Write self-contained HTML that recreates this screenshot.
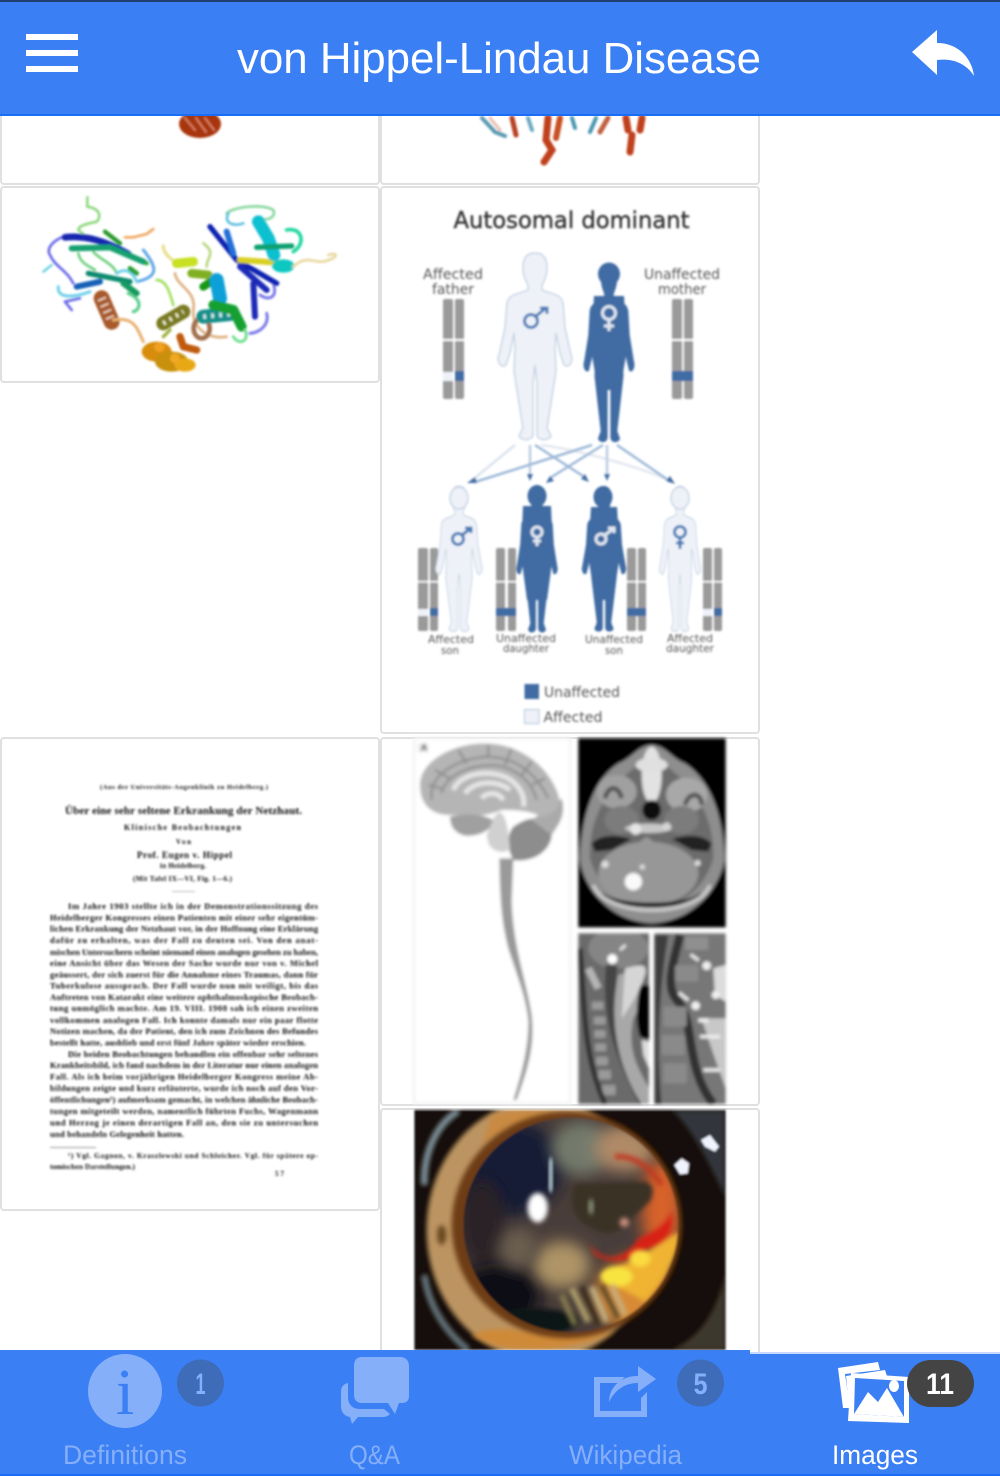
<!DOCTYPE html>
<html lang="en">
<head>
<meta charset="utf-8">
<title>von Hippel-Lindau Disease</title>
<style>
html,body{margin:0;padding:0;background:#fff;width:1000px;height:1476px;overflow:hidden}
svg{display:block}
text{font-family:"Liberation Sans",sans-serif}
.doc text{font-family:"Liberation Serif",serif;fill:#111;font-size:8.6px;font-weight:bold}
.lab text{font-family:"DejaVu Sans",sans-serif;fill:#555;text-anchor:middle}
.tile{fill:#fff;stroke:#e0e0e0;stroke-width:2}
</style>
</head>
<body>
<svg width="1000" height="1476" viewBox="0 0 1000 1476" xmlns="http://www.w3.org/2000/svg">
<defs>
<filter id="b1" x="-10%" y="-10%" width="120%" height="120%"><feGaussianBlur stdDeviation="1"/></filter>
<filter id="b2" x="-10%" y="-10%" width="120%" height="120%"><feGaussianBlur stdDeviation="1.5"/></filter>
<filter id="b3" x="-40%" y="-40%" width="180%" height="180%"><feGaussianBlur stdDeviation="6"/></filter>
<filter id="b4" x="-60%" y="-60%" width="220%" height="220%"><feGaussianBlur stdDeviation="22"/></filter>
<path id="body" d="M0,0C-10,0-12,8-12,15C-12,23-9,28-7,32L-7,37C-14,41-26,40-28,50L-30,75L-36,102C-39,108-34,116-29,112L-25,100L-21,80L-20,95L-21,118L-16,150L-12,175L-16,183C-14,188-3,188-2,182L-2,130L0,112L2,130L2,182C3,188 14,188 16,183L12,175L16,150L21,118L20,95L21,80L25,100L29,112C34,116 39,108 36,102L30,75L28,50C26,40 14,41 7,37L7,32C9,28 12,23 12,15C12,8 10,0 0,0Z"/>
<clipPath id="eyeClip"><rect x="88" y="15" width="934" height="720"/></clipPath>
<clipPath id="pupilClip"><circle cx="557" cy="360" r="322"/></clipPath>
<clipPath id="cClip"><rect x="580" y="595" width="212" height="512"/></clipPath>
<clipPath id="dClip"><rect x="808" y="595" width="214" height="512"/></clipPath>
<clipPath id="mriClip"><rect x="580" y="10" width="442" height="567"/></clipPath>
</defs>

<rect width="1000" height="1476" fill="#fff"/>

<!-- tiles -->
<rect class="tile" x="1" y="90" width="378" height="94" rx="3"/>
<rect class="tile" x="381" y="90" width="378" height="94" rx="3"/>
<rect class="tile" x="1" y="187" width="378" height="195" rx="3"/>
<rect class="tile" x="381" y="187" width="378" height="546" rx="3"/>
<rect class="tile" x="1" y="738" width="378" height="472" rx="3"/>
<rect class="tile" x="381" y="738" width="378" height="367" rx="3"/>
<rect class="tile" x="381" y="1109" width="378" height="280" rx="3"/>

<!-- top fragments of clipped proteins -->
<g filter="url(#b1)">
<g fill="none" stroke-linecap="round">
<ellipse cx="200" cy="124" rx="21" ry="14" fill="#a83510"/>
<path d="M185,118L195,130M205,118L214,130M196,118L206,132" stroke="#d88060" stroke-width="2"/>
<path d="M482,118L495,132L505,136" stroke="#5a9ab0" stroke-width="4"/>
<path d="M512,118L516,135" stroke="#b84020" stroke-width="5"/>
<path d="M490,118L500,130" stroke="#e8c0b0" stroke-width="3"/>
<path d="M528,118L532,130" stroke="#6aa8c0" stroke-width="4"/>
<path d="M548,118L546,140L552,150L544,162" stroke="#c0401a" stroke-width="7"/>
<path d="M560,118L556,138" stroke="#c85020" stroke-width="6"/>
<path d="M572,118L575,128M596,118L590,132" stroke="#4a96b0" stroke-width="4"/>
<path d="M608,118L600,132" stroke="#c06040" stroke-width="5"/>
<path d="M626,118L628,130M642,118L640,130M632,135L630,152" stroke="#c0401a" stroke-width="7"/>
</g>
</g>

<!-- protein -->
<g filter="url(#b1)">
<g transform="translate(0,110) scale(.33333)" fill="none" stroke-linecap="round" stroke-linejoin="round">
<path d="M262,262L262,290C300,295 305,320 290,335C270,340 235,345 235,360L250,372" stroke="#8fd880" stroke-width="8"/>
<path d="M195,378C150,395 140,420 150,435C165,470 200,480 220,520" stroke="#6a6ae8" stroke-width="8"/>
<path d="M130,485L155,465" stroke="#66cfe0" stroke-width="7"/>
<path d="M280,425C300,450 340,460 350,490M235,430C240,460 270,470 285,480" stroke="#70d080" stroke-width="8"/>
<path d="M430,420C470,470 480,500 410,515" stroke="#5fa8e8" stroke-width="9"/>
<path d="M175,530C170,570 230,560 270,545M350,490C380,470 400,490 410,515" stroke="#70d0e8" stroke-width="9"/>
<path d="M195,575L215,600M195,575L240,565" stroke="#6a6ae8" stroke-width="8"/>
<path d="M385,550C430,570 420,600 400,605" stroke="#60d090" stroke-width="10"/>
<path d="M195,382C260,375 320,395 385,432" stroke="#1525b0" stroke-width="20"/>
<path d="M385,432L440,460" stroke="#38b020" stroke-width="13"/>
<path d="M215,415L330,412L430,455" stroke="#12a070" stroke-width="18"/>
<path d="M315,365L360,400" stroke="#2a9a2a" stroke-width="13"/>
<path d="M375,382L400,382L440,372L460,357" stroke="#f0a860" stroke-width="8"/>
<path d="M265,490L390,515" stroke="#0a8a70" stroke-width="16"/>
<path d="M230,530L300,515" stroke="#1560b8" stroke-width="18"/>
<path d="M370,520L410,550" stroke="#129a60" stroke-width="18"/>
<path d="M390,475L410,490" stroke="#2aa030" stroke-width="14"/>
<path d="M470,510C500,510 510,550 520,585" stroke="#a0e060" stroke-width="8"/>
<path d="M305,565L335,635" stroke="#a85a2a" stroke-width="48"/>
<path d="M305,565L335,635" stroke="#f0d8c8" stroke-width="26" stroke-dasharray="5 15" stroke-linecap="butt"/>
<path d="M340,630C400,620 410,650 430,695" stroke="#e8b070" stroke-width="9"/>
<path d="M490,640L550,605" stroke="#7a7a20" stroke-width="42"/>
<path d="M490,640L550,605" stroke="#f0f0d0" stroke-width="14" stroke-dasharray="7 15" stroke-linecap="butt"/>
<path d="M490,680L510,660" stroke="#a0b040" stroke-width="10"/>
<ellipse cx="470" cy="725" rx="45" ry="30" fill="#d88c10"/>
<ellipse cx="515" cy="755" rx="50" ry="30" fill="#c89010"/>
<ellipse cx="555" cy="765" rx="32" ry="20" fill="#e8a818"/>
<ellipse cx="478" cy="712" rx="16" ry="14" fill="#f0a020"/>
<ellipse cx="525" cy="745" rx="15" ry="15" fill="#f0a820"/>
<path d="M540,680L550,710L590,720" stroke="#c05a10" stroke-width="22"/>
<path d="M490,408C490,430 510,445 530,460" stroke="#e8e090" stroke-width="10"/>
<path d="M530,460L580,455" stroke="#c8e020" stroke-width="28"/>
<path d="M575,490L625,495" stroke="#80b020" stroke-width="26"/>
<path d="M610,530L640,510" stroke="#189818" stroke-width="24"/>
<path d="M525,490C530,530 590,540 580,600C575,650 620,690 680,680" stroke="#dfb080" stroke-width="8"/>
<path d="M620,470C620,440 650,430 610,400" stroke="#b8d880" stroke-width="8"/>
<ellipse cx="605" cy="655" rx="24" ry="30" stroke="#a07050" stroke-width="14"/>
<path d="M610,620L690,612" stroke="#15908a" stroke-width="42"/>
<path d="M610,620L690,612" stroke="#d0f0f0" stroke-width="14" stroke-dasharray="8 16" stroke-linecap="butt"/>
<path d="M650,510L660,565" stroke="#10a0d8" stroke-width="42"/>
<path d="M640,585L700,600L725,650" stroke="#12a030" stroke-width="30"/>
<path d="M700,680C720,710 750,690 735,660" stroke="#70e090" stroke-width="9"/>
<path d="M800,610C810,650 770,670 750,670" stroke="#7a7ae8" stroke-width="9"/>
<path d="M820,520C835,570 800,570 780,555" stroke="#7a7ae8" stroke-width="9"/>
<path d="M680,310C700,290 790,280 820,300C830,320 800,340 770,320" stroke="#8ad8a0" stroke-width="8"/>
<path d="M685,310C670,340 700,350 730,340" stroke="#60c0e0" stroke-width="8"/>
<path d="M630,350L710,450L830,520" stroke="#1020b0" stroke-width="16"/>
<path d="M680,365L700,430" stroke="#2070d8" stroke-width="18"/>
<path d="M720,470L800,540" stroke="#1a2ab8" stroke-width="18"/>
<path d="M760,520L765,620" stroke="#1a2ab8" stroke-width="18"/>
<path d="M720,450L860,460" stroke="#d8d020" stroke-width="18"/>
<path d="M775,335L805,385L822,435" stroke="#10c0d0" stroke-width="38"/>
<path d="M770,412L875,408" stroke="#10a070" stroke-width="16"/>
<ellipse cx="850" cy="468" rx="34" ry="20" fill="#10c8c0"/>
<path d="M860,360C905,350 920,400 880,425" stroke="#20d8a0" stroke-width="11"/>
<path d="M880,470C920,430 950,465 980,452C1020,440 1010,425 985,435" stroke="#e8d8a0" stroke-width="8"/>
</g>
</g>

<!-- pedigree -->
<g filter="url(#b1)">
<g class="lab">
<text x="571.5" y="228" font-size="23.5" textLength="236" lengthAdjust="spacingAndGlyphs" style="fill:#333" stroke="#333" stroke-width=".4">Autosomal dominant</text>
<text x="453" y="279" font-size="14.5" textLength="60" lengthAdjust="spacingAndGlyphs">Affected</text>
<text x="453" y="294" font-size="14.5" textLength="42" lengthAdjust="spacingAndGlyphs">father</text>
<text x="682" y="279" font-size="14.5" textLength="76" lengthAdjust="spacingAndGlyphs">Unaffected</text>
<text x="682" y="294" font-size="14.5" textLength="48" lengthAdjust="spacingAndGlyphs">mother</text>
<text x="451" y="643" font-size="11" textLength="46" lengthAdjust="spacingAndGlyphs">Affected</text>
<text x="450" y="654" font-size="11" textLength="18" lengthAdjust="spacingAndGlyphs">son</text>
<text x="526" y="642" font-size="11" textLength="60" lengthAdjust="spacingAndGlyphs">Unaffected</text>
<text x="526" y="652" font-size="11" textLength="46" lengthAdjust="spacingAndGlyphs">daughter</text>
<text x="614" y="643" font-size="11" textLength="58" lengthAdjust="spacingAndGlyphs">Unaffected</text>
<text x="614" y="654" font-size="11" textLength="18" lengthAdjust="spacingAndGlyphs">son</text>
<text x="690" y="642" font-size="11" textLength="46" lengthAdjust="spacingAndGlyphs">Affected</text>
<text x="690" y="652" font-size="11" textLength="48" lengthAdjust="spacingAndGlyphs">daughter</text>
<text x="582" y="697" font-size="14" textLength="76" lengthAdjust="spacingAndGlyphs">Unaffected</text>
<text x="573" y="722" font-size="14" textLength="59" lengthAdjust="spacingAndGlyphs">Affected</text>
</g>

<!-- connectors -->
<g fill="none" stroke-width="2.5">
<path d="M515,445L470,482" stroke="#dbe3ee"/>
<path d="M530,445L530,478" stroke="#bccde2"/>
<path d="M535,445L586,478" stroke="#9db8d8"/>
<path d="M541,445C580,450 650,470 672,482" stroke="#e3e8f0"/>
<path d="M592,445L475,482" stroke="#9db8d8"/>
<path d="M603,445L550,478" stroke="#9db8d8"/>
<path d="M607,445L607,478" stroke="#bccde2"/>
<path d="M617,445L671,482" stroke="#9db8d8"/>
</g>
<g fill="#3f6ca3">
<path d="M467,483l8,-6 2,6z"/><path d="M527,474h6l-3,7z"/><path d="M546,483l4,-7 4,5z"/>
<path d="M589,482l-8,-3 4,-5z"/><path d="M604,474h6l-3,7z"/><path d="M675,484l-9,-3 4,-5z"/>
</g>

<!-- chromosomes -->
<g fill="#9a9a9a">
<rect x="443" y="299" width="10" height="100" rx="2"/><rect x="455" y="299" width="9" height="100" rx="2"/>
<rect x="672" y="299" width="10" height="100" rx="2"/><rect x="684" y="299" width="9" height="100" rx="2"/>
<rect x="418" y="548" width="10" height="83" rx="2"/><rect x="430" y="548" width="8" height="83" rx="2"/>
<rect x="496" y="548" width="9" height="83" rx="2"/><rect x="508" y="548" width="8" height="83" rx="2"/>
<rect x="627" y="548" width="9" height="83" rx="2"/><rect x="638" y="548" width="8" height="83" rx="2"/>
<rect x="703" y="548" width="9" height="83" rx="2"/><rect x="714" y="548" width="8" height="83" rx="2"/>
</g>
<g fill="#fff">
<rect x="442" y="339" width="24" height="2"/><rect x="671" y="339" width="24" height="2"/>
<rect x="417" y="581" width="23" height="1.5"/><rect x="495" y="581" width="23" height="1.5"/>
<rect x="626" y="581" width="22" height="1.5"/><rect x="702" y="581" width="22" height="1.5"/>
</g>
<g fill="#3f6ca3">
<rect x="455" y="371" width="9" height="10"/><rect x="672" y="371" width="21" height="10"/>
<rect x="430" y="608" width="8" height="8"/><rect x="496" y="608" width="20" height="8"/>
<rect x="627" y="608" width="19" height="8"/><rect x="714" y="608" width="8" height="8"/>
</g>
<g fill="#eef2f8">
<rect x="443" y="372" width="10" height="9"/><rect x="418" y="609" width="10" height="7"/><rect x="703" y="609" width="9" height="7"/>
</g>

<!-- people -->
<g fill="#eef2f8" stroke="#c5d2e4" stroke-width="1.4">
<use href="#body" transform="translate(535,253)"/>
<use href="#body" transform="translate(459,486) scale(.63,.78)"/>
<use href="#body" transform="translate(680,486) scale(.56,.78)"/>
<ellipse cx="459" cy="498" rx="9" ry="11"/>
<ellipse cx="680" cy="498" rx="9" ry="11"/>
</g>
<g fill="#3f6ca3">
<use href="#body" transform="translate(609,263) scale(.69,.96)"/>
<use href="#body" transform="translate(537,485) scale(.56,.79)"/>
<use href="#body" transform="translate(604,486) scale(.6,.78)"/>
<ellipse cx="609" cy="274" rx="11" ry="11.5"/>
<ellipse cx="537" cy="496" rx="9.5" ry="11"/>
<ellipse cx="603" cy="497" rx="9.5" ry="11"/>
<path d="M594,296H624L627,350L620,390L598,390L591,350Z"/>
<path d="M523,506H551L553,555L547,600L527,600L521,555Z"/>
<path d="M591,507H617L620,555L613,600L595,600L588,555Z"/>
</g>

<!-- sex symbols -->
<g fill="none" stroke-width="3">
<g stroke="#4a7db8">
<circle cx="531" cy="321" r="6.5"/><path d="M536,316L546,308M540,308h7v6"/>
<circle cx="458" cy="539" r="5.5"/><path d="M462,535L470,529M465,528h6v5"/>
<circle cx="680" cy="532" r="5.5"/><path d="M680,538V549M676,543h8"/>
</g>
<g stroke="#dfe7f2">
<circle cx="609" cy="313" r="6.5"/><path d="M609,320V331M604,326h10"/>
<circle cx="537" cy="532" r="5"/><path d="M537,537V546M533,541h8"/>
<circle cx="601" cy="539" r="5"/><path d="M605,535L613,529M608,528h6v5"/>
</g>
</g>

<!-- legend -->
<rect x="524.5" y="684" width="14.5" height="15" fill="#3f6ca3"/>
<rect x="524.5" y="709.5" width="14.5" height="14" fill="#eef2f8" stroke="#c5d2e4" stroke-width="1.4"/>
</g>

<!-- old paper -->
<g filter="url(#b1)" class="doc">
<text x="100" y="789" style="font-size:6.5px" textLength="168">(Aus der Universitäts-Augenklinik zu Heidelberg.)</text>
<text x="65" y="814" style="font-size:11px" textLength="237">Über eine sehr seltene Erkrankung der Netzhaut.</text>
<text x="124" y="830" style="font-size:8px" textLength="117">Klinische Beobachtungen</text>
<text x="176" y="844" style="font-size:7px" textLength="15">Von</text>
<text x="137" y="858" style="font-size:9px" textLength="95">Prof. Eugen v. Hippel</text>
<text x="160" y="868" style="font-size:7px" textLength="46">in Heidelberg.</text>
<text x="133" y="881" style="font-size:7px" textLength="99">(Mit Tafel IX—VI, Fig. 1—6.)</text>
<rect x="172" y="891" width="23" height="1" fill="#bbb"/>
<text x="68" y="909" textLength="250">Im Jahre 1903 stellte ich in der Demonstrationssitzung des</text>
<text x="50" y="920.5" textLength="268">Heidelberger Kongresses einen Patienten mit einer sehr eigentüm-</text>
<text x="50" y="931.5" textLength="268">lichen Erkrankung der Netzhaut vor, in der Hoffnung eine Erklärung</text>
<text x="50" y="943" textLength="268">dafür zu erhalten, was der Fall zu deuten sei.  Von den anat-</text>
<text x="50" y="955" textLength="268">mischen Untersuchern scheint niemand einen analogen gesehen zu haben,</text>
<text x="50" y="966" textLength="268">eine Ansicht über das Wesen der Sache wurde nur von v. Michel</text>
<text x="50" y="977.5" textLength="268">geäussert, der sich zuerst für die Annahme eines Traumas, dann für</text>
<text x="50" y="988.5" textLength="268">Tuberkulose aussprach.  Der Fall wurde nun mit weiligt, bis das</text>
<text x="50" y="1000" textLength="268">Auftreten von Katarakt eine weitere ophthalmoskopische Beobach-</text>
<text x="50" y="1011" textLength="268">tung unmöglich machte.  Am 19. VIII. 1908 sah ich einen zweiten</text>
<text x="50" y="1023" textLength="268">vollkommen analogen Fall. Ich konnte damals nur ein paar flotte</text>
<text x="50" y="1034" textLength="268">Notizen machen, da der Patient, den ich zum Zeichnen des Befundes</text>
<text x="50" y="1045.5" textLength="256">bestellt hatte, ausblieb und erst fünf Jahre später wieder erschien.</text>
<text x="68" y="1057" textLength="250">Die beiden Beobachtungen behandlen ein offenbar sehr seltenes</text>
<text x="50" y="1068" textLength="268">Krankheitsbild, ich fand nachdem in der Literatur nur einen analogen</text>
<text x="50" y="1079.5" textLength="268">Fall.  Als ich beim vorjährigen Heidelberger Kongress meine Ab-</text>
<text x="50" y="1091" textLength="268">bildungen zeigte und kurz erläuterte, wurde ich noch auf den Vor-</text>
<text x="50" y="1102.5" textLength="268">öffentlichungen¹) aufmerksam gemacht, in welchen ähnliche Beobach-</text>
<text x="50" y="1114" textLength="268">tungen mitgeteilt werden, namentlich führten Fuchs, Wagenmann</text>
<text x="50" y="1125.5" textLength="268">und Herzog je einen derartigen Fall an, den sie zu untersuchen</text>
<text x="50" y="1137" textLength="134">und behandeln Gelegenheit hatten.</text>
<rect x="50" y="1147" width="46" height="1" fill="#999"/>
<text x="68" y="1158" style="font-size:7.4px" textLength="250">¹) Vgl. Gagnon, v. Kraszlewski und Schleicher.  Vgl. für spätere op-</text>
<text x="50" y="1169" style="font-size:7.4px" textLength="85">tomischen Darstellungen.)</text>
<text x="275" y="1176" style="font-size:7px" textLength="9">57</text>
</g>

<!-- brain + MRI -->
<g filter="url(#b2)">
<g transform="translate(385,735) scale(.33333)">
<rect x="88" y="10" width="468" height="1095" fill="#fff" stroke="#f0f0f0" stroke-width="6"/>
<rect x="100" y="25" width="30" height="28" fill="#e8e8e8"/>
<text x="117" y="46" font-size="28" font-weight="bold" fill="#222" text-anchor="middle">A</text>
<path d="M343,370C345,500 350,560 370,640C395,720 425,790 430,860C430,950 405,1030 385,1095L395,1095C430,1000 450,930 440,840C425,740 385,640 380,500L385,370Z" fill="#9a9a9a"/>
<path d="M385,275C440,235 490,245 500,290C505,340 450,385 385,375C365,340 365,300 385,275Z" fill="#8d8d8d"/>
<path d="M440,255L530,190C545,240 520,270 500,300Z" fill="#aaa"/>
<path d="M105,150C105,80 200,25 300,25C400,25 490,90 520,180C530,215 510,235 470,245C430,225 390,225 350,225C290,250 240,240 195,240C140,240 105,210 105,150Z" fill="#b5b5b5"/>
<path d="M195,245C240,235 290,235 325,255C325,285 280,305 240,302C210,295 195,275 195,245Z" fill="#a0a0a0"/>
<path d="M305,300C320,270 325,235 345,232C365,240 370,290 375,340C360,360 320,350 310,325Z" fill="#d0d0d0"/>
<g fill="none" stroke="#e6e6e6" stroke-width="15">
<path d="M205,165C225,115 310,100 370,130C410,155 420,190 415,215"/>
<path d="M240,175C270,135 340,135 375,165"/>
<path d="M290,190C305,170 340,170 355,195"/>
</g>
<g fill="none" stroke="#8f8f8f" stroke-width="7">
<path d="M140,195C130,120 210,75 300,65C390,65 450,110 490,190"/>
<path d="M170,175C180,120 260,85 340,92C400,105 440,140 455,195"/>
<path d="M310,30V65M380,40L360,90M440,80L410,120M220,45L245,85M150,105L195,130M130,150L170,160M480,130L440,150"/>
</g>
<!-- axial MRI -->
<rect x="580" y="10" width="442" height="567" fill="#000"/>
<g clip-path="url(#mriClip)">
<path d="M800,30C840,30 860,70 900,85C970,130 1015,230 1018,370C1010,450 930,560 800,565C670,560 590,450 585,370C590,230 630,130 700,85C740,70 760,30 800,30Z" fill="#8e8e8e"/>
<path d="M800,60C870,110 990,190 985,370C960,460 880,520 800,525C720,520 640,460 615,370C610,190 730,110 800,60Z" fill="#6c6c6c"/>
<ellipse cx="800" cy="120" rx="30" ry="85" fill="#e2e2e2"/>
<ellipse cx="800" cy="90" rx="48" ry="22" fill="#e0e0e0"/>
<ellipse cx="800" cy="225" rx="28" ry="30" fill="#0c0c0c"/>
<ellipse cx="695" cy="170" rx="60" ry="50" fill="#a0a0a0"/>
<ellipse cx="905" cy="180" rx="62" ry="52" fill="#a8a8a8"/>
<path d="M660,190C670,150 700,150 710,190M900,210C910,170 950,170 950,210" fill="none" stroke="#555" stroke-width="14"/>
<ellipse cx="710" cy="255" rx="52" ry="42" fill="#7c7c7c"/>
<ellipse cx="890" cy="255" rx="52" ry="42" fill="#7c7c7c"/>
<ellipse cx="790" cy="280" rx="70" ry="14" fill="#c8c8c8"/>
<path d="M620,325C650,295 700,300 740,312L680,345L630,350ZM980,325C950,295 900,300 860,312L920,345L970,350Z" fill="#222"/>
<ellipse cx="790" cy="415" rx="150" ry="95" fill="#979797"/>
<path d="M785,305L860,360L710,360Z" fill="#979797"/>
<path d="M650,480C700,520 900,520 950,480" fill="none" stroke="#1c1c1c" stroke-width="14"/>
<path d="M625,450C660,550 940,550 975,450" fill="none" stroke="#c8c8c8" stroke-width="12"/>
<circle cx="745" cy="440" r="26" fill="#fafafa"/>
<circle cx="772" cy="396" r="8" fill="#ddd"/>
<circle cx="660" cy="388" r="11" fill="#ddd"/>
<circle cx="938" cy="384" r="9" fill="#ddd"/>
<circle cx="752" cy="282" r="17" fill="#e5e5e5"/>
<circle cx="845" cy="275" r="13" fill="#d5d5d5"/>
</g>
<!-- sagittal C -->
<rect x="580" y="595" width="212" height="512" fill="#6a6a6a"/>
<g clip-path="url(#cClip)">
<ellipse cx="700" cy="640" rx="90" ry="60" fill="#858585"/>
<path d="M680,690C670,800 680,920 780,1105" fill="none" stroke="#444" stroke-width="34"/>
<path d="M700,720C790,690 785,790 745,850C725,950 760,1000 792,1060V1107H770C700,1000 670,860 700,720Z" fill="#a8a8a8"/>
<path d="M765,750L792,750V915L765,905C750,860 755,800 765,750Z" fill="#000"/>
<path d="M770,915L792,920V1000L775,960Z" fill="#ddd"/>
<path d="M720,700C760,690 790,680 780,720C760,780 730,820 710,850Z" fill="#d5d5d5"/>
<g fill="#9a9a9a"><rect x="620" y="800" width="36" height="24" rx="4"/><rect x="626" y="845" width="36" height="24" rx="4"/><rect x="628" y="885" width="34" height="24" rx="4"/><rect x="630" y="925" width="34" height="24" rx="4"/><rect x="633" y="965" width="36" height="26" rx="4"/><rect x="640" y="1005" width="38" height="28" rx="4"/><rect x="652" y="1050" width="40" height="30" rx="4"/></g>
<circle cx="682" cy="672" r="15" fill="#fff"/>
<path d="M705,645L722,630" stroke="#eee" stroke-width="8"/>
<path d="M585,640C600,800 590,950 660,1107" fill="none" stroke="#333" stroke-width="16"/>
<path d="M610,700L640,760" stroke="#b5b5b5" stroke-width="22"/>
</g>
<!-- sagittal D -->
<rect x="808" y="595" width="214" height="512" fill="#777"/>
<g clip-path="url(#dClip)">
<path d="M850,600C830,720 810,900 830,1107L808,1107V600Z" fill="#3c3c3c"/>
<path d="M885,600C860,700 840,760 880,800C930,860 900,1000 985,1107" fill="none" stroke="#333" stroke-width="26"/>
<g fill="#8a8a8a"><rect x="870" y="690" width="70" height="50" rx="6"/><rect x="835" y="815" width="70" height="60" rx="6"/><rect x="830" y="900" width="70" height="60" rx="6"/><rect x="835" y="985" width="70" height="60" rx="6"/></g>
<rect x="900" y="605" width="70" height="40" rx="6" fill="#8f8f8f"/>
<path d="M950,850C965,900 1000,1000 1022,1060V850Z" fill="#c8c8c8"/>
<path d="M985,700L1022,690V800L990,780Z" fill="#dcdcdc"/>
<g fill="#f0f0f0"><circle cx="965" cy="692" r="13"/><circle cx="932" cy="812" r="13"/><circle cx="992" cy="780" r="12"/><path d="M920,655l24,18-6,7-24,-18z"/><path d="M885,770l28,22-6,7-28,-22z"/><rect x="940" y="850" width="30" height="12"/><rect x="945" y="900" width="60" height="10"/><rect x="955" y="1000" width="50" height="10"/></g>
</g>
</g>
</g>

<!-- eye -->
<g filter="url(#b1)">
<g transform="translate(385,1105) scale(.33333)">
<g clip-path="url(#eyeClip)">
<rect x="88" y="15" width="934" height="720" fill="#160d07"/>
<path d="M860,15H1022V280C970,170 920,70 860,15Z" fill="#33363a" filter="url(#b3)"/>
<path d="M860,735C960,690 1000,600 1022,500V735Z" fill="#3e382e" filter="url(#b3)"/>
<path d="M118,240C115,150 150,60 220,18" fill="none" stroke="#a8c8d8" stroke-width="18" opacity=".75" filter="url(#b3)"/>
<path d="M118,510C130,600 180,680 250,735" fill="none" stroke="#8ca8b8" stroke-width="18" opacity=".7" filter="url(#b3)"/>
<ellipse cx="470" cy="375" rx="345" ry="390" fill="#bc9462" filter="url(#b3)"/>
<path d="M320,30C400,10 460,15 520,25L430,60C380,70 320,90 290,120Z" fill="#c98a42" filter="url(#b3)"/>
<path d="M260,690C340,740 500,760 690,680L560,690C440,690 340,650 260,690Z" fill="#cf8a38" filter="url(#b3)"/>
<ellipse cx="170" cy="390" rx="14" ry="30" fill="#6a4a20" filter="url(#b3)"/>
<ellipse cx="545" cy="360" rx="345" ry="340" fill="#6e3c14" filter="url(#b3)"/>
<circle cx="557" cy="360" r="322" fill="#4a3e3a"/>
<g clip-path="url(#pupilClip)">
<ellipse cx="360" cy="190" rx="175" ry="145" fill="#121a36" filter="url(#b4)"/>
<ellipse cx="290" cy="350" rx="70" ry="130" fill="#2a2428" filter="url(#b4)"/>
<ellipse cx="340" cy="570" rx="130" ry="95" fill="#0a1018" filter="url(#b4)"/>
<ellipse cx="450" cy="650" rx="130" ry="40" fill="#0c1218" filter="url(#b3)"/>
<ellipse cx="590" cy="130" rx="90" ry="80" fill="#737a6c" filter="url(#b4)"/>
<ellipse cx="720" cy="130" rx="90" ry="70" fill="#b08a68" filter="url(#b4)"/>
<ellipse cx="530" cy="480" rx="85" ry="70" fill="#ae9466" filter="url(#b4)"/>
<ellipse cx="400" cy="430" rx="55" ry="60" fill="#6a5e50" filter="url(#b4)"/>
<ellipse cx="830" cy="310" rx="60" ry="150" fill="#d8622c" filter="url(#b4)"/>
<path d="M690,155C740,150 790,180 830,240" fill="none" stroke="#c03a22" stroke-width="16" filter="url(#b3)"/>
<ellipse cx="760" cy="570" rx="130" ry="110" fill="#d88a36" filter="url(#b4)"/>
<path d="M600,400C640,470 710,480 760,400C810,380 840,360 860,320C870,380 840,420 790,430C740,470 680,480 630,450Z" fill="#d82014" filter="url(#b3)"/>
<path d="M650,510C730,480 790,440 880,380C890,440 840,520 780,590C730,560 680,540 650,510Z" fill="#f0b432" filter="url(#b3)"/>
<ellipse cx="695" cy="515" rx="48" ry="30" fill="#f8e440" filter="url(#b3)"/>
<ellipse cx="765" cy="460" rx="32" ry="25" fill="#fadc40" filter="url(#b3)"/>
<path d="M570,235L780,230C805,235 810,260 795,290L740,340C700,395 660,395 610,365C560,340 550,280 570,235Z" fill="#3a3028" filter="url(#b3)"/>
<ellipse cx="618" cy="305" rx="6" ry="24" fill="#a0ae8c" filter="url(#b3)"/>
<circle cx="718" cy="352" r="14" fill="#c89080" filter="url(#b3)"/>
<path d="M500,160L495,260" stroke="#98aeb8" stroke-width="30" filter="url(#b3)"/>
<g stroke-width="16" fill="none" filter="url(#b3)">
<path d="M530,570L570,660" stroke="#8a8050"/>
<path d="M560,550L610,650" stroke="#b8a870"/>
<path d="M590,545L640,660" stroke="#3a2c1a"/>
<path d="M620,545L665,650" stroke="#c8b888"/>
<path d="M650,540L700,640" stroke="#5a4a2a"/>
<path d="M680,540L720,630" stroke="#c8b080"/>
</g>
</g>
<ellipse cx="458" cy="308" rx="30" ry="44" fill="#fff" filter="url(#b3)"/>
<path d="M868,180L890,160L912,175L908,205L885,208Z" fill="#f0f4ff"/>
<path d="M948,105L975,90L1002,125L990,140L960,125Z" fill="#f0f4ff"/>
</g>
</g>
</g>

<!-- header -->
<rect x="0" y="0" width="1000" height="2" fill="#1f3f70"/>
<rect x="0" y="2" width="1000" height="112" fill="#3b7ff5"/>
<rect x="0" y="114" width="1000" height="2" fill="#1a6ef5"/>
<g fill="#fff">
<rect x="26" y="34" width="52" height="6"/>
<rect x="26" y="50" width="52" height="6"/>
<rect x="26" y="66" width="52" height="6"/>
<path d="M912,52L937,30V43C958,43 972,58 974,76C966,63 952,58 937,60V75Z"/>
</g>
<text x="237" y="73" font-size="44" fill="#fff" textLength="524" lengthAdjust="spacingAndGlyphs">von Hippel-Lindau Disease</text>

<!-- bottom bar -->
<rect x="0" y="1350" width="750" height="126" fill="#3b7ff5"/>
<rect x="750" y="1354" width="250" height="122" fill="#3b7ff5"/>
<rect x="750" y="1352" width="250" height="2" fill="#c8dafb"/>
<rect x="0" y="1474" width="1000" height="2" fill="#1a6ef5"/>

<!-- definitions -->
<circle cx="125" cy="1391" r="37" fill="#85aff8"/>
<text x="125" y="1414" font-size="66" text-anchor="middle" fill="#3b7ff5" style="font-family:'Liberation Serif',serif">i</text>
<circle cx="200.5" cy="1383" r="23.5" fill="#3f6cb8"/>
<text x="200.5" y="1394" font-size="30" font-weight="bold" text-anchor="middle" fill="#85aff8" textLength="10" lengthAdjust="spacingAndGlyphs">1</text>
<text x="125" y="1464" font-size="27" text-anchor="middle" fill="#85aff8" textLength="124" lengthAdjust="spacingAndGlyphs">Definitions</text>

<!-- Q&A -->
<path d="M341,1392C341,1386 344,1384 348,1383V1397C348,1404 352,1409 360,1409H384L390,1414C388,1416 386,1417 382,1417H358L352,1424L350,1417C344,1416 341,1412 341,1406Z" fill="#85aff8"/>
<path d="M362,1357H400C405,1357 409,1360 409,1366V1396C409,1401 406,1403 402,1403H399L395,1414L388,1403H362C357,1403 354,1400 354,1395V1366C354,1360 357,1357 362,1357Z" fill="#85aff8"/>
<text x="374.5" y="1464" font-size="27" text-anchor="middle" fill="#85aff8" textLength="51" lengthAdjust="spacingAndGlyphs">Q&amp;A</text>

<!-- share -->
<path d="M594,1377H625L618,1383H600V1411H641V1398L647,1392V1417H594Z" fill="#85aff8"/>
<path d="M609,1402C609,1388 620,1376 638,1376V1366L656,1379L638,1392V1383C625,1383 615,1390 609,1402Z" fill="#85aff8"/>
<circle cx="700.5" cy="1383" r="23.5" fill="#3f6cb8"/>
<text x="700.5" y="1394" font-size="30" font-weight="bold" text-anchor="middle" fill="#85aff8" textLength="14" lengthAdjust="spacingAndGlyphs">5</text>
<text x="625.5" y="1464" font-size="27" text-anchor="middle" fill="#85aff8" textLength="113" lengthAdjust="spacingAndGlyphs">Wikipedia</text>

<!-- images -->
<path d="M838,1368L878,1362L880,1370L845,1374L850,1408L843,1408Z" fill="#fff"/>
<path d="M846,1376L885,1370L887,1376L852,1380L855,1408H849Z" fill="#fff"/>
<path d="M851,1373L909,1377L909,1423L848,1421Z" fill="#fff"/>
<path d="M855,1378L904,1381L904,1417L854,1414Z" fill="#3b7ff5"/>
<path d="M854,1414L868,1392L878,1402L887,1388L904,1417Z" fill="#fff"/>
<ellipse cx="894" cy="1386" rx="5" ry="6" fill="#fff"/>
<rect x="907" y="1360" width="67" height="47" rx="23.5" fill="#444"/>
<text x="940" y="1394" font-size="30" font-weight="bold" text-anchor="middle" fill="#fff" textLength="28" lengthAdjust="spacingAndGlyphs">11</text>
<text x="875" y="1464" font-size="27" text-anchor="middle" fill="#fff" textLength="86" lengthAdjust="spacingAndGlyphs">Images</text>
</svg>
</body>
</html>
